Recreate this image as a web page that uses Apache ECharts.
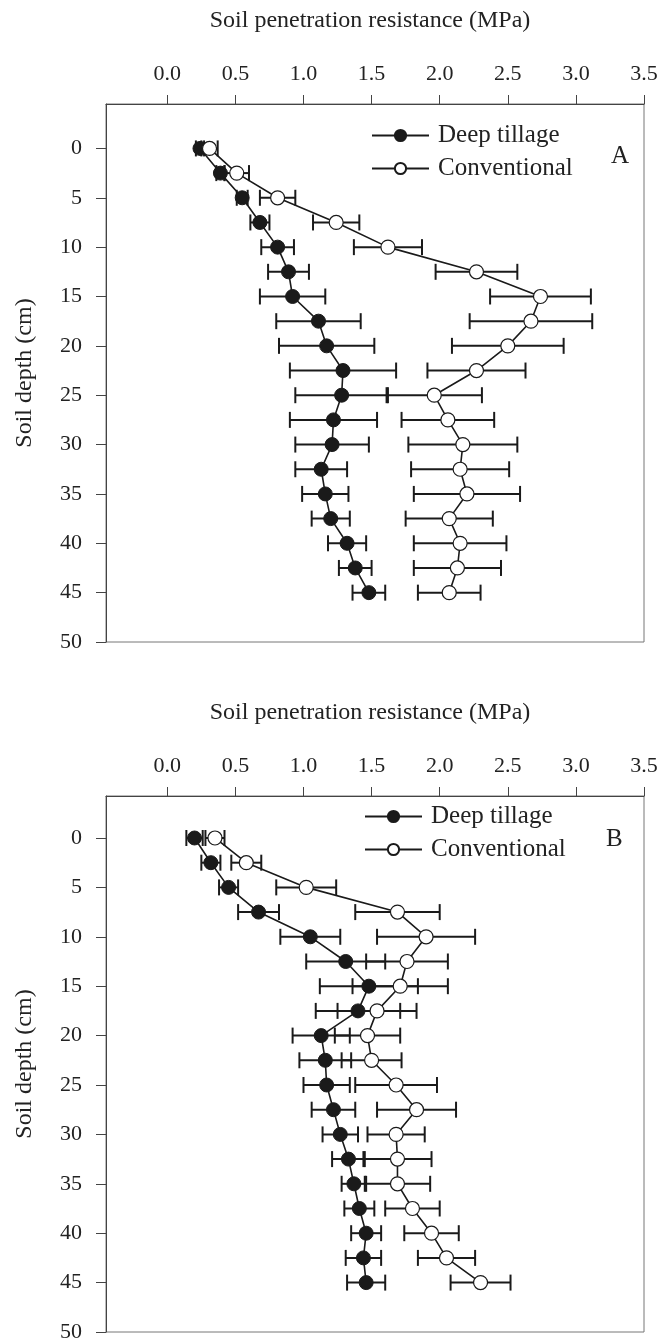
<!DOCTYPE html>
<html>
<head>
<meta charset="utf-8">
<script src="https://cdn.jsdelivr.net/npm/echarts@6/dist/echarts.min.js"></script>
<style>
html,body{margin:0;padding:0;background:#fff;}
#chart{width:662px;height:1344px;}
</style>
</head>
<body>
<div id="chart"></div>
<script>
// ---- data ----
const depths = [0, 2.5, 5, 7.5, 10, 12.5, 15, 17.5, 20, 22.5, 25, 27.5, 30, 32.5, 35, 37.5, 40, 42.5, 45];

// Panel A
const deepA    = [0.24, 0.39, 0.55, 0.68, 0.81, 0.89, 0.92, 1.11, 1.17, 1.29, 1.28, 1.22, 1.21, 1.13, 1.16, 1.20, 1.32, 1.38, 1.48];
const deepAErr = [0.03, 0.03, 0.04, 0.07, 0.12, 0.15, 0.24, 0.31, 0.35, 0.39, 0.34, 0.32, 0.27, 0.19, 0.17, 0.14, 0.14, 0.12, 0.12];
const convA    = [0.31, 0.51, 0.81, 1.24, 1.62, 2.27, 2.74, 2.67, 2.50, 2.27, 1.96, 2.06, 2.17, 2.15, 2.20, 2.07, 2.15, 2.13, 2.07];
const convAErr = [0.06, 0.09, 0.13, 0.17, 0.25, 0.30, 0.37, 0.45, 0.41, 0.36, 0.35, 0.34, 0.40, 0.36, 0.39, 0.32, 0.34, 0.32, 0.23];

// Panel B
const deepB    = [0.20, 0.32, 0.45, 0.67, 1.05, 1.31, 1.48, 1.40, 1.13, 1.16, 1.17, 1.22, 1.27, 1.33, 1.37, 1.41, 1.46, 1.44, 1.46];
const deepBErr = [0.06, 0.07, 0.07, 0.15, 0.22, 0.29, 0.36, 0.31, 0.21, 0.19, 0.17, 0.16, 0.13, 0.12, 0.09, 0.11, 0.11, 0.13, 0.14];
const convB    = [0.35, 0.58, 1.02, 1.69, 1.90, 1.76, 1.71, 1.54, 1.47, 1.50, 1.68, 1.83, 1.68, 1.69, 1.69, 1.80, 1.94, 2.05, 2.30];
const convBErr = [0.07, 0.11, 0.22, 0.31, 0.36, 0.30, 0.35, 0.29, 0.24, 0.22, 0.30, 0.29, 0.21, 0.25, 0.24, 0.20, 0.20, 0.21, 0.22];

const xTicks = [0, 0.5, 1.0, 1.5, 2.0, 2.5, 3.0, 3.5];
const yTicks = [0, 5, 10, 15, 20, 25, 30, 35, 40, 45, 50];
const seriesNames = ['Deep tillage', 'Conventional'];
const xTitle = 'Soil penetration resistance (MPa)';
const yTitle = 'Soil depth (cm)';
const panelLetters = ['A', 'B'];

// ---- chart ----
const FONT = '"Liberation Serif", "Times New Roman", serif';
const INK = '#1a1a1a';

function pairs(vals) { return depths.map((d, i) => [vals[i], d]); }
function errs(vals, e) { return depths.map((d, i) => [vals[i], d, e[i]]); }

function errRender(params, api) {
  const v = api.value(0), d = api.value(1), e = api.value(2);
  const p1 = api.coord([v - e, d]);
  const p2 = api.coord([v + e, d]);
  const h = 8;
  const style = { stroke: INK, lineWidth: 2 };
  return {
    type: 'group',
    children: [
      { type: 'line', shape: { x1: p1[0], y1: p1[1], x2: p2[0], y2: p2[1] }, style: style },
      { type: 'line', shape: { x1: p1[0], y1: p1[1] - h, x2: p1[0], y2: p1[1] + h }, style: style },
      { type: 'line', shape: { x1: p2[0], y1: p2[1] - h, x2: p2[0], y2: p2[1] + h }, style: style }
    ]
  };
}

function xAxisFor(gi) {
  return {
    gridIndex: gi, type: 'value', position: 'top', min: -0.45, max: 3.5,
    splitLine: { show: false },
    axisLine: { show: true, onZero: false, lineStyle: { color: '#444', width: 1 } },
    axisTick: { show: true, inside: false, length: 9, customValues: xTicks, lineStyle: { color: '#444', width: 1 } },
    axisLabel: { customValues: xTicks, formatter: v => v.toFixed(1), margin: 19, fontSize: 22, fontFamily: FONT, color: '#222' },
    name: xTitle, nameLocation: 'middle', nameGap: 71,
    nameTextStyle: { fontSize: 24, fontFamily: FONT, color: '#222', padding: [0, 10, 0, 0] }
  };
}
function yAxisFor(gi, min) {
  return {
    gridIndex: gi, type: 'value', inverse: true, min: min, max: 50,
    splitLine: { show: false },
    axisLine: { show: true, onZero: false, lineStyle: { color: '#444', width: 1 } },
    axisTick: { show: true, inside: false, length: 10, customValues: yTicks, lineStyle: { color: '#444', width: 1 } },
    axisLabel: { customValues: yTicks, margin: 24, fontSize: 22, fontFamily: FONT, color: '#222' },
    name: yTitle, nameLocation: 'middle', nameRotate: 90, nameGap: 69,
    nameTextStyle: { fontSize: 24, fontFamily: FONT, color: '#222' }
  };
}

function panelSeries(gi, deep, deepErr, conv, convErr) {
  return [
    { type: 'custom', name: 'errDeep' + gi, xAxisIndex: gi, yAxisIndex: gi, renderItem: errRender,
      data: errs(deep, deepErr), encode: { x: 0, y: 1 }, z: 1, silent: true },
    { type: 'custom', name: 'errConv' + gi, xAxisIndex: gi, yAxisIndex: gi, renderItem: errRender,
      data: errs(conv, convErr), encode: { x: 0, y: 1 }, z: 1, silent: true },
    { type: 'line', name: seriesNames[0], xAxisIndex: gi, yAxisIndex: gi, data: pairs(deep),
      symbol: 'circle', symbolSize: 14, z: 3,
      lineStyle: { color: INK, width: 1.6 },
      itemStyle: { color: INK, borderColor: INK, borderWidth: 1 } },
    { type: 'line', name: seriesNames[1], xAxisIndex: gi, yAxisIndex: gi, data: pairs(conv),
      symbol: 'circle', symbolSize: 14, z: 4,
      lineStyle: { color: INK, width: 1.6 },
      itemStyle: { color: '#fff', borderColor: INK, borderWidth: 1.2 } }
  ];
}

function legendFor(left, top) {
  return {
    data: seriesNames, orient: 'vertical', left: left, top: top,
    itemWidth: 57, itemHeight: 14, itemGap: 8, padding: 0,
    selectedMode: false,
    textStyle: { fontSize: 25, fontFamily: FONT, color: '#222', padding: [0, 0, 0, 4] }
  };
}

const chart = echarts.init(document.getElementById('chart'), null, { renderer: 'canvas' });
chart.setOption({
  backgroundColor: '#fff',
  animation: false,
  title: [
    { text: panelLetters[0], left: 611, top: 144, padding: 0,
      textStyle: { fontSize: 25, fontWeight: 'normal', fontFamily: FONT, color: '#222' } },
    { text: panelLetters[1], left: 606, top: 827, padding: 0,
      textStyle: { fontSize: 25, fontWeight: 'normal', fontFamily: FONT, color: '#222' } }
  ],
  legend: [legendFor(371, 123), legendFor(364, 804)],
  grid: [
    { left: 106, top: 104, width: 538, height: 538, show: true, borderColor: '#777', borderWidth: 1, backgroundColor: 'transparent' },
    { left: 106, top: 796, width: 538, height: 536, show: true, borderColor: '#777', borderWidth: 1, backgroundColor: 'transparent' }
  ],
  xAxis: [xAxisFor(0), xAxisFor(1)],
  yAxis: [yAxisFor(0, -4.5), yAxisFor(1, -4.25)],
  series: [].concat(
    panelSeries(0, deepA, deepAErr, convA, convAErr),
    panelSeries(1, deepB, deepBErr, convB, convBErr)
  )
});
</script>
</body>
</html>
